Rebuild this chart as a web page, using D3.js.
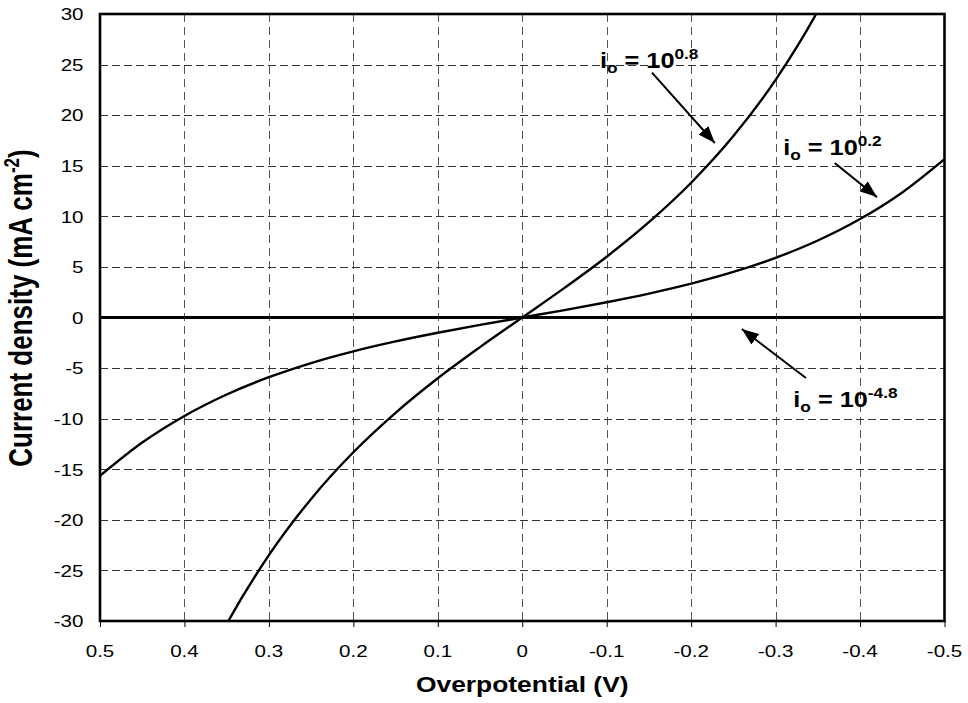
<!DOCTYPE html>
<html>
<head>
<meta charset="utf-8">
<script src="https://cdn.jsdelivr.net/npm/d3@7"></script>
<style>
  html, body { margin: 0; padding: 0; background: #fff; }
  svg { display: block; }
  text { font-family: "Liberation Sans", Arial, sans-serif; fill: #000; }
</style>
</head>
<body>
<svg id="chart" width="968" height="703"></svg>
<script>
// ---- data ----
const xTicks = [0.5, 0.4, 0.3, 0.2, 0.1, 0, -0.1, -0.2, -0.3, -0.4, -0.5];
const xTickLabels = ["0.5", "0.4", "0.3", "0.2", "0.1", "0", "-0.1", "-0.2", "-0.3", "-0.4", "-0.5"];
const yTicks = [-30, -25, -20, -15, -10, -5, 0, 5, 10, 15, 20, 25, 30];
const yTickLabels = ["-30", "-25", "-20", "-15", "-10", "-5", "0", "5", "10", "15", "20", "25", "30"];

// i0 = 10^0.8
const etaHigh = [0.36, 0.35, 0.3, 0.25, 0.2, 0.15, 0.1, 0.05, 0, -0.05, -0.1, -0.15, -0.2, -0.25, -0.3, -0.35, -0.36];
const currentHigh = [-31.85, -30.30, -23.49, -17.93, -13.32, -9.42, -6.01, -2.93, 0, 2.93, 6.01, 9.42, 13.32, 17.93, 23.49, 30.30, 31.85];

// i0 = 10^0.2
const etaMid = [0.5, 0.45, 0.4, 0.35, 0.3, 0.25, 0.2, 0.15, 0.1, 0.05, 0, -0.05, -0.1, -0.15, -0.2, -0.25, -0.3, -0.35, -0.4, -0.45, -0.5];
const currentMid = [-15.65, -12.36, -9.73, -7.61, -5.90, -4.50, -3.345, -2.365, -1.51, -0.735, 0, 0.735, 1.51, 2.365, 3.345, 4.50, 5.90, 7.61, 9.73, 12.36, 15.65];

// i0 = 10^-4.8
const etaLow = [0.5, 0.25, 0, -0.25, -0.5];
const currentLow = [-0.0002, -0.00004, 0, 0.00004, 0.0002];

// annotations: label superscript, text position (eta, i), arrow start, arrow end
const annotSup = ["0.8", "0.2", "-4.8"];
const annotText = [[-0.092, 24.7], [-0.309, 16.06], [-0.321, -8.85]];
const arrowFrom = [[-0.1536, 24.2], [-0.370, 15.27], [-0.336, -5.98]];
const arrowTo = [[-0.228, 17.25], [-0.420, 11.9], [-0.260, -1.14]];

// ---- layout ----
const svg = d3.select("#chart");
const pLeft = 100, pRight = 944.5, pTop = 14, pBottom = 621;

const x = d3.scaleLinear().domain([0.5, -0.5]).range([pLeft, pRight]);
const y = d3.scaleLinear().domain([-30, 30]).range([pBottom, pTop]);

const defs = svg.append("defs");
defs.append("clipPath").attr("id", "plotclip")
  .append("rect").attr("x", pLeft).attr("y", pTop).attr("width", pRight - pLeft).attr("height", pBottom - pTop);

defs.append("marker")
  .attr("id", "arrowhead")
  .attr("markerUnits", "userSpaceOnUse")
  .attr("viewBox", "0 0 17 13")
  .attr("refX", 17).attr("refY", 6.5)
  .attr("markerWidth", 17).attr("markerHeight", 13)
  .attr("orient", "auto")
  .append("path").attr("d", "M0,0 L17,6.5 L0,13 Z").attr("fill", "#000");

// gridlines
const g = svg.append("g");
g.selectAll(".vgrid").data(xTicks.filter(d => d !== 0.5 && d !== -0.5)).enter()
  .append("line")
  .attr("x1", d => Math.round(x(d)) + 0.5).attr("x2", d => Math.round(x(d)) + 0.5)
  .attr("y1", pTop).attr("y2", pBottom)
  .attr("stroke", "#555").attr("stroke-width", 1).attr("stroke-dasharray", "8,5");
g.selectAll(".hgrid").data(yTicks.filter(d => d !== 30 && d !== -30 && d !== 0)).enter()
  .append("line")
  .attr("x1", pLeft).attr("x2", pRight)
  .attr("y1", d => Math.round(y(d)) + 0.5).attr("y2", d => Math.round(y(d)) + 0.5)
  .attr("stroke", "#333").attr("stroke-width", 1).attr("stroke-dasharray", "8,4");

// x-axis ticks (below axis)
const xAxis = d3.axisBottom(x).tickValues(xTicks).tickSize(6).tickFormat("");
const xg = svg.append("g").attr("transform", `translate(0,${pBottom})`).call(xAxis);
xg.select(".domain").remove();
xg.selectAll(".tick line").attr("stroke", "#000").attr("stroke-width", 1);

// tick labels (horizontally stretched like the reference)
svg.append("g").selectAll("text").data(xTicks).enter().append("text")
  .attr("transform", d => `translate(${x(d)},657) scale(1.27,1)`)
  .attr("text-anchor", "middle").attr("font-size", 16.2)
  .text((d, i) => xTickLabels[i]);

const yAxis = d3.axisLeft(y).tickValues(yTicks).tickSize(0)
  .tickFormat(d => yTickLabels[yTicks.indexOf(d)]);
const yg = svg.append("g").attr("transform", `translate(${pLeft},0)`).call(yAxis);
yg.select(".domain").remove();
yg.selectAll(".tick text")
  .attr("x", 0).attr("dy", null).attr("y", 0)
  .attr("font-size", 16.2).attr("font-family", "Liberation Sans, Arial, sans-serif")
  .attr("text-anchor", "end").attr("fill", "#000")
  .attr("transform", `translate(-16.5,5.8) scale(1.27,1)`);

// curves
const line = d3.line().x(d => x(d[0])).y(d => y(d[1])).curve(d3.curveMonotoneX);
const plot = svg.append("g").attr("clip-path", "url(#plotclip)");
plot.append("path").datum(etaMid.map((e, i) => [e, currentMid[i]]))
  .attr("d", line).attr("fill", "none").attr("stroke", "#000").attr("stroke-width", 2.4);
plot.append("path").datum(etaHigh.map((e, i) => [e, currentHigh[i]]))
  .attr("d", line).attr("fill", "none").attr("stroke", "#000").attr("stroke-width", 2.4);
plot.append("path").datum(etaLow.map((e, i) => [e, currentLow[i]]))
  .attr("d", line).attr("fill", "none").attr("stroke", "#000").attr("stroke-width", 2.8);

// frame
svg.append("rect").attr("x", pLeft).attr("y", pTop).attr("width", pRight - pLeft).attr("height", pBottom - pTop)
  .attr("fill", "none").attr("stroke", "#000").attr("stroke-width", 2.6);

// annotations
annotSup.forEach((s, i) => {
  const t = svg.append("text")
    .attr("transform", `translate(${x(annotText[i][0])},${y(annotText[i][1])}) scale(1.15,1)`)
    .attr("font-size", 22).attr("font-weight", "bold");
  t.append("tspan").text("i");
  t.append("tspan").attr("font-size", 15).attr("dy", 5).text("o");
  t.append("tspan").attr("dy", -5).text(" = 10");
  t.append("tspan").attr("font-size", 15).attr("dy", -9).text(s);
  svg.append("line")
    .attr("x1", x(arrowFrom[i][0])).attr("y1", y(arrowFrom[i][1]))
    .attr("x2", x(arrowTo[i][0])).attr("y2", y(arrowTo[i][1]))
    .attr("stroke", "#000").attr("stroke-width", 2)
    .attr("marker-end", "url(#arrowhead)");
});

// axis titles
svg.append("text")
  .attr("transform", `translate(${(pLeft + pRight) / 2},692) scale(1.2,1)`)
  .attr("text-anchor", "middle").attr("font-size", 22).attr("font-weight", "bold")
  .text("Overpotential (V)");

const yt = svg.append("text")
  .attr("transform", `translate(32,308) scale(1.3,1) rotate(-90)`)
  .attr("text-anchor", "middle").attr("font-size", 26).attr("font-weight", "bold");
yt.append("tspan").text("Current density (mA cm");
yt.append("tspan").attr("font-size", 17).attr("dy", -10).text("-2");
yt.append("tspan").attr("dy", 10).text(")");
</script>
</body>
</html>
